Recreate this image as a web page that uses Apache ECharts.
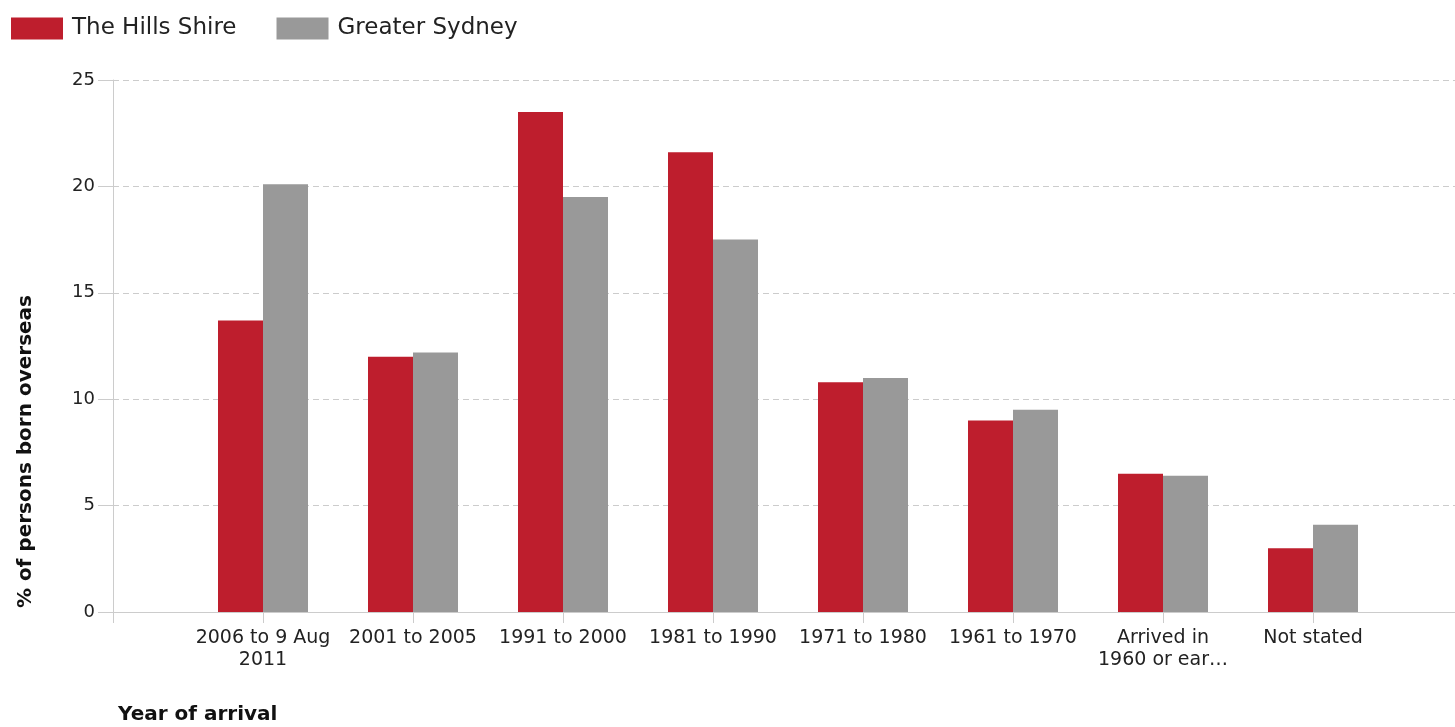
<!DOCTYPE html>
<html>
<head>
<meta charset="utf-8">
<script src="https://cdn.jsdelivr.net/npm/echarts@6/dist/echarts.min.js"></script>
<style>
  html, body { margin: 0; padding: 0; background: #fff; }
  #chart { width: 1455px; height: 727px; }
</style>
</head>
<body>
<div id="chart"></div>
<script>
// categories (leading and trailing blanks keep the axis padding of the original)
const categories = ['', '2006 to 9 Aug\n2011', '2001 to 2005', '1991 to 2000', '1981 to 1990',
  '1971 to 1980', '1961 to 1970', 'Arrived in\n1960 or ear\u2026', 'Not stated', ''];
const hillsShire = [null, 13.7, 12.0, 23.5, 21.6, 10.8, 9.0, 6.5, 3.0, null];
const greaterSydney = [null, 20.1, 12.2, 19.5, 17.5, 11.0, 9.5, 6.4, 4.1, null];
const yTicks = { min: 0, max: 25, interval: 5 };

const font = 'DejaVu Sans';
const chart = echarts.init(document.getElementById('chart'));
chart.setOption({
  animation: false,
  textStyle: { fontFamily: font },
  legend: {
    left: 11,
    top: 17,
    padding: 0,
    itemWidth: 52,
    itemHeight: 22,
    itemGap: 40,
    icon: 'rect',
    textStyle: { fontSize: 23, color: '#222', padding: [0, 0, 0, 4] },
    data: ['The Hills Shire', 'Greater Sydney']
  },
  grid: { left: 113, right: -8, top: 80, bottom: 115, outerBoundsMode: 'none' },
  xAxis: {
    type: 'category',
    data: categories,
    boundaryGap: false,
    axisLine: { lineStyle: { color: '#ccc' } },
    axisTick: { show: true, length: 11, lineStyle: { color: '#ccc' } },
    axisLabel: { fontSize: 19, color: '#222', margin: 15, lineHeight: 22, interval: 0 },
    splitLine: { show: false }
  },
  yAxis: {
    type: 'value',
    min: yTicks.min,
    max: yTicks.max,
    interval: yTicks.interval,
    axisLine: { show: true, lineStyle: { color: '#ccc' } },
    axisTick: { show: true, length: 15, lineStyle: { color: '#ccc' } },
    axisLabel: { fontSize: 18, color: '#222', margin: 18 },
    splitLine: { lineStyle: { color: '#ccc', type: [6, 4] } }
  },
  graphic: [
    {
      type: 'text',
      left: 16,
      top: 295,
      rotation: Math.PI / 2,
      style: { text: '% of persons born overseas', font: 'bold 20px "DejaVu Sans"', fill: '#111' }
    },
    {
      type: 'text',
      left: 118,
      top: 705,
      style: { text: 'Year of arrival', font: 'bold 20px "DejaVu Sans"', fill: '#111' }
    }
  ],
  series: [
    {
      name: 'The Hills Shire',
      type: 'bar',
      data: hillsShire,
      barWidth: 45,
      barGap: '0%',
      itemStyle: { color: '#be1e2d' }
    },
    {
      name: 'Greater Sydney',
      type: 'bar',
      data: greaterSydney,
      barWidth: 45,
      barGap: '0%',
      itemStyle: { color: '#999999' }
    }
  ]
});
</script>
</body>
</html>
